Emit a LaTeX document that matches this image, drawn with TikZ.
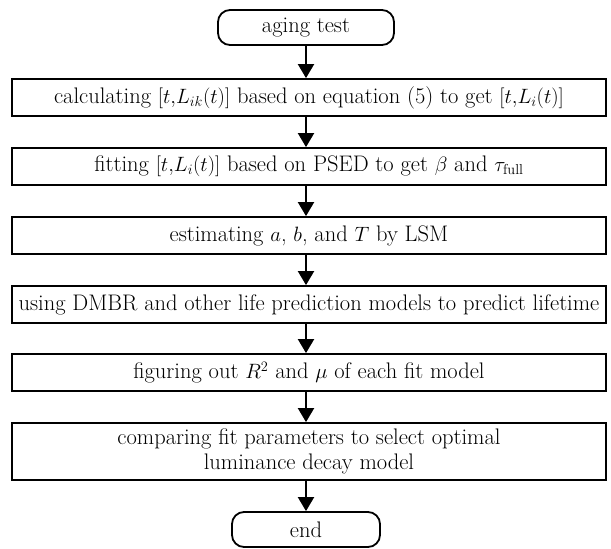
\documentclass[tikz,border=0pt]{standalone}
\usetikzlibrary{arrows.meta}
\begin{document}
\begin{tikzpicture}[x=1pt,y=1pt,
  every node/.style={font=\fontsize{22.5}{25}\selectfont},
  procbox/.style={draw,line width=1.8pt,minimum width=594pt,minimum height=37pt,inner sep=0pt,align=center},
  termbox/.style={draw,line width=1.8pt,rounded corners=12pt,minimum height=35pt,inner sep=0pt},
  flow/.style={line width=2pt,-{Triangle[width=16pt,length=14pt]}}]
\useasboundingbox (0,0) rectangle (611,-549);
\node[termbox,minimum width=176pt] (start) at (306,-27.5) {aging test};
\node[procbox] (b1) at (309,-97.5) {calculating $[t{,}L_{ik}(t)]$ based on equation (5) to get $[t{,}L_i(t)]$};
\node[procbox] (b2) at (309,-166.5) {fitting $[t{,}L_i(t)]$ based on PSED to get $\beta$ and $\tau_{\mathrm{full}}$};
\node[procbox] (b3) at (309,-235.5) {estimating $a$, $b$, and $T$ by LSM};
\node[procbox] (b4) at (309,-304.5) {using DMBR and other life prediction models to predict lifetime};
\node[procbox] (b5) at (309,-372.5) {figuring out $R^2$ and $\mu$ of each fit model};
\node[procbox,minimum height=57pt] (b6) at (309,-451.5) {comparing fit parameters to select optimal\\luminance decay model};
\node[termbox,minimum width=148pt] (end) at (306,-529.5) {end};
\draw[flow] (start.south) -- (start.south |- b1.north);
\draw[flow] (start.south |- b1.south) -- (start.south |- b2.north);
\draw[flow] (start.south |- b2.south) -- (start.south |- b3.north);
\draw[flow] (start.south |- b3.south) -- (start.south |- b4.north);
\draw[flow] (start.south |- b4.south) -- (start.south |- b5.north);
\draw[flow] (start.south |- b5.south) -- (start.south |- b6.north);
\draw[flow] (start.south |- b6.south) -- (end.north);
\end{tikzpicture}
\end{document}
